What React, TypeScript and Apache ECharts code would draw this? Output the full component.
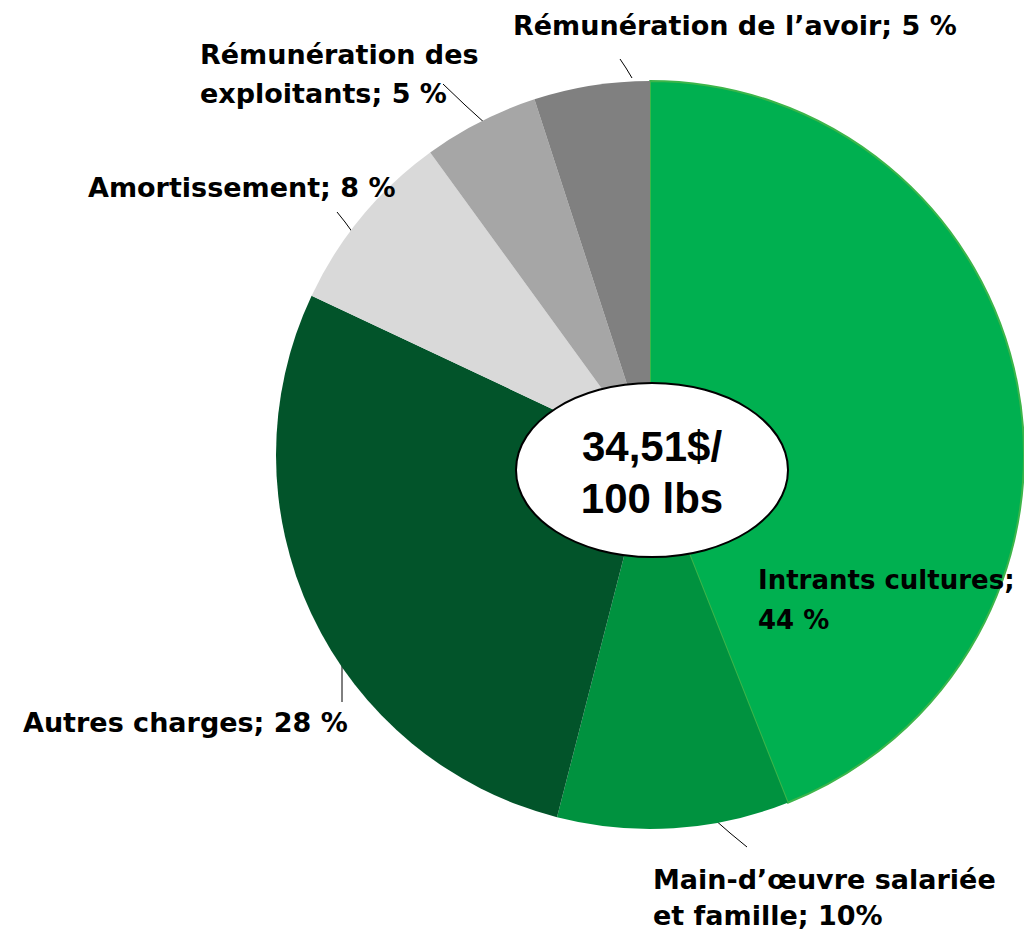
import React, { useEffect, useRef } from "react";
import * as echarts from "echarts";

const categories = [
  "Intrants cultures",
  "Main-d’œuvre salariée et famille",
  "Autres charges",
  "Amortissement",
  "Rémunération des exploitants",
  "Rémunération de l’avoir",
];
const values = [44, 10, 28, 8, 5, 5];
const labelTexts = [
  "Intrants cultures;\n44 %",
  "Main-d’œuvre salariée\net famille; 10%",
  "Autres charges; 28 %",
  "Amortissement; 8 %",
  "Rémunération des\nexploitants; 5 %",
  "Rémunération de l’avoir; 5 %",
];
const colors = ["#00B050", "#00923F", "#02542A", "#D9D9D9", "#A6A6A6", "#808080"];
const centerText = "34,51$/\n100 lbs";

// label placement (layout only)
const labelPos: { x: number; y: number; lh: number; fs: number; line: number[][] | null }[] = [
  { x: 758, y: 600, lh: 40, fs: 26, line: null },
  { x: 653, y: 897, lh: 36, fs: 27, line: [[714, 819], [730, 833], [747, 847]] },
  { x: 23, y: 722, lh: 36, fs: 27, line: [[342, 660], [342, 680], [342, 702]] },
  { x: 88, y: 187, lh: 36, fs: 27, line: [[353, 233], [345, 222], [337, 212]] },
  { x: 200, y: 74, lh: 39, fs: 27, line: [[487, 125], [465, 105], [443, 84]] },
  { x: 513, y: 25, lh: 36, fs: 27, line: [[632, 78], [626, 68], [620, 59]] },
];

export default function App() {
  const ref = useRef<HTMLDivElement>(null);
  useEffect(() => {
    if (!ref.current) return;
    const chart = echarts.init(ref.current, null, { renderer: "svg" });
    const data = categories.map((name, i) => ({
      name,
      value: values[i],
      itemStyle:
        i === 0
          ? { color: colors[i], borderColor: "#3DB54A", borderWidth: 2 }
          : { color: colors[i], borderWidth: 0 },
      label: { lineHeight: labelPos[i].lh, fontSize: labelPos[i].fs },
      labelLine: { show: labelPos[i].line !== null },
    }));
    chart.setOption({
      animation: false,
      backgroundColor: "#ffffff",
      series: [
        {
          type: "pie",
          center: [650, 455],
          radius: 374,
          startAngle: 90,
          clockwise: true,
          avoidLabelOverlap: false,
          data,
          label: {
            show: true,
            position: "outside",
            overflow: "none",
            alignTo: "none",
            bleedMargin: 0,
            formatter: (p: any) => labelTexts[p.dataIndex],
            color: "#000",
            fontFamily: "DejaVu Sans",
            fontWeight: "bold",
            fontSize: 27,
          },
          labelLine: {
            show: true,
            lineStyle: { color: "#000", width: 1 },
          },
          labelLayout: (params: any) => {
            const lp = labelPos[params.dataIndex];
            const out: any = {
              x: lp.x,
              y: lp.y,
              align: "left",
              verticalAlign: "middle",
            };
            if (lp.line) out.labelLinePoints = lp.line;
            return out;
          },
          emphasis: { disabled: true },
        },
      ],
      graphic: [
        {
          type: "ellipse",
          shape: { cx: 652, cy: 470, rx: 136, ry: 87 },
          style: { fill: "#ffffff", stroke: "#000", lineWidth: 2 },
          z: 100,
        },
        {
          type: "text",
          x: 652,
          y: 472,
          z: 101,
          style: {
            text: centerText,
            fill: "#000",
            fontFamily: "Liberation Sans",
            fontWeight: "bold",
            fontSize: 42,
            lineHeight: 52,
            align: "center",
            verticalAlign: "middle",
          },
        },
      ],
    });
    return () => chart.dispose();
  }, []);
  return (
    <div
      ref={ref}
      style={{ position: "absolute", left: 0, top: 0, width: 1024, height: 929 }}
    />
  );
}
